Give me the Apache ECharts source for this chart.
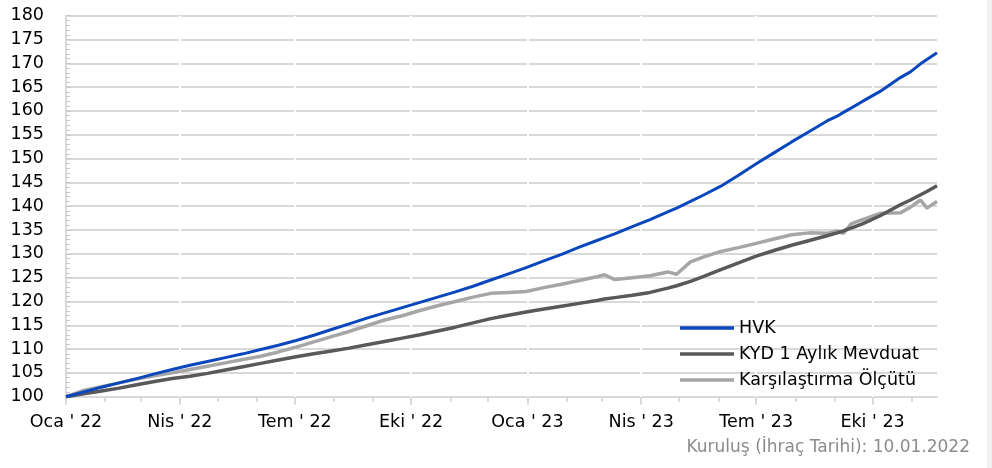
<!DOCTYPE html>
<html><head><meta charset="utf-8">
<script src="https://cdn.jsdelivr.net/npm/echarts@6/dist/echarts.min.js"></script>
<style>html,body{margin:0;padding:0;background:#fff}#c{width:992px;height:468px}</style>
</head><body><div id="c"></div>
<script>
// day offsets from 10.01.2022
const days = [0,14,28,42,56,70,84,98,112,126,140,154,168,182,196,210,224,238,252,266,280,294,308,322,336,350,364,378,392,406,420,426,434,448,462,476,483,494,504,518,532,546,560,574,588,602,610,615,621,630,644,660,668,676,681,689];
const hvk = [100,101.0,102.0,102.9,103.8,104.8,105.7,106.6,107.4,108.2,109.0,109.9,110.8,111.8,112.9,114.1,115.3,116.5,117.6,118.7,119.8,120.9,122.0,123.2,124.5,125.8,127.1,128.5,129.9,131.4,132.8,133.4,134.2,135.7,137.2,138.8,139.6,141.0,142.3,144.2,146.5,148.9,151.2,153.5,155.7,157.9,158.9,159.7,160.6,162.0,164.1,167.0,168.2,169.9,170.8,172.2];
const kyd = [100,100.6,101.2,101.8,102.5,103.2,103.8,104.3,104.9,105.6,106.3,107.0,107.7,108.4,109.0,109.6,110.2,110.9,111.6,112.3,113.0,113.8,114.6,115.5,116.4,117.1,117.8,118.4,119.0,119.6,120.2,120.5,120.8,121.3,121.9,122.8,123.3,124.2,125.2,126.7,128.1,129.5,130.7,131.8,132.8,133.8,134.4,134.8,135.4,136.3,138.0,140.3,141.3,142.4,143.1,144.3];
const olcut = [100,101.3,102.1,102.9,103.7,104.4,105.0,105.7,106.4,107.1,107.8,108.5,109.4,110.4,111.5,112.6,113.7,114.9,116.1,117.0,118.1,119.1,120.0,120.9,121.7,121.9,122.1,122.9,123.6,124.4,125.2,125.6,124.6,125.0,125.4,126.2,125.7,128.3,129.3,130.5,131.3,132.2,133.1,134.0,134.4,134.3,134.8,134.3,136.3,137.2,138.5,138.6,139.8,141.3,139.6,141.0];
const seriesNames = ['HVK', 'KYD 1 Aylık Mevduat', 'Karşılaştırma Ölçütü'];
const quarterDays = [0,90,181,273,365,455,546,638];
const quarterLabels = ["Oca ' 22","Nis ' 22","Tem ' 22","Eki ' 22","Oca ' 23","Nis ' 23","Tem ' 23","Eki ' 23"];
const monthDays = [0,31,59,90,120,151,181,212,243,273,304,334,365,396,424,455,485,516,546,577,608,638,669];
const footnote = 'Kuruluş (İhraç Tarihi): 10.01.2022';

const FONT = 'DejaVu Sans';
const chart = echarts.init(document.getElementById('c'), null, {renderer: 'canvas'});
const colors = ['#0a47bd', '#595959', '#a6a6a6'];
const widths = [3, 3.5, 3.5];
const vals = [hvk, kyd, olcut];

const series = vals.map((arr, k) => ({
  name: seriesNames[k], type: 'line', xAxisIndex: 0, yAxisIndex: 0,
  data: days.map((d, i) => [d, arr[i]]),
  showSymbol: false, symbol: 'none', smooth: false, z: 3 + (2 - k),
  lineStyle: {color: colors[k], width: widths[k]}, itemStyle: {color: colors[k]},
  silent: true, animation: false
}));
series.push({
  name: 'qlines', type: 'line', data: [], xAxisIndex: 0, yAxisIndex: 0, z: 1, silent: true, animation: false,
  markLine: {silent: true, symbol: 'none', label: {show: false}, z: 1,
    lineStyle: {color: '#ffffff', width: 2, type: 'solid'},
    data: quarterDays.slice(1).map(d => ({xAxis: d}))}
});

chart.setOption({
  animation: false,
  backgroundColor: '#ffffff',
  grid: {left: 66, right: 55, top: 15.7, bottom: 71.3, containLabel: false},
  xAxis: [{
    type: 'value', min: 0, max: 689,
    axisLine: {show: true, lineStyle: {color: '#d9d9d9', width: 2}},
    axisTick: {show: true, customValues: monthDays, length: 5, lineStyle: {color: '#d9d9d9', width: 2}},
    axisLabel: {show: true, customValues: quarterDays, margin: 17, fontFamily: FONT, fontSize: 17.5, color: '#000',
      formatter: v => { const i = quarterDays.indexOf(v); return i >= 0 ? quarterLabels[i] : ''; }},
    splitLine: {show: false}
  }, {
    type: 'value', min: 0, max: 689, position: 'bottom',
    axisLine: {show: false},
    axisTick: {show: true, customValues: quarterDays, length: 8, lineStyle: {color: '#d9d9d9', width: 2}},
    axisLabel: {show: false}, splitLine: {show: false}
  }],
  yAxis: {
    type: 'value', min: 100, max: 180, interval: 5,
    axisLine: {show: true, lineStyle: {color: '#d9d9d9', width: 2}},
    axisTick: {show: true, inside: true, length: 5, lineStyle: {color: '#c8c8c8', width: 1}},
    minorTick: {show: true, splitNumber: 5, length: 4, lineStyle: {color: '#c8c8c8', width: 1}},
    axisLabel: {margin: 22, fontFamily: FONT, fontSize: 17.5, color: '#000'},
    splitLine: {show: true, lineStyle: {color: '#d9d9d9', width: 2}}
  },
  legend: {
    show: true, orient: 'vertical', left: 675, top: 313, itemWidth: 54, itemHeight: 3.5, itemGap: 6, z: 50,
    icon: 'rect', selectedMode: false,
    data: seriesNames.map((n, k) => ({name: n, itemStyle: {color: colors[k]}})),
    textStyle: {fontFamily: FONT, fontSize: 17.5, color: '#000', lineHeight: 20}
  },
  graphic: [{
    type: 'text', right: 22, top: 439, z: 50,
    style: {text: footnote, fontFamily: FONT, fontSize: 17, fill: '#8c8c8c'}
  }, {
    type: 'rect', shape: {x: 987, y: 0, width: 5, height: 468}, style: {fill: '#f2f2f2'}, silent: true
  }],
  series: series
});
</script></body></html>
